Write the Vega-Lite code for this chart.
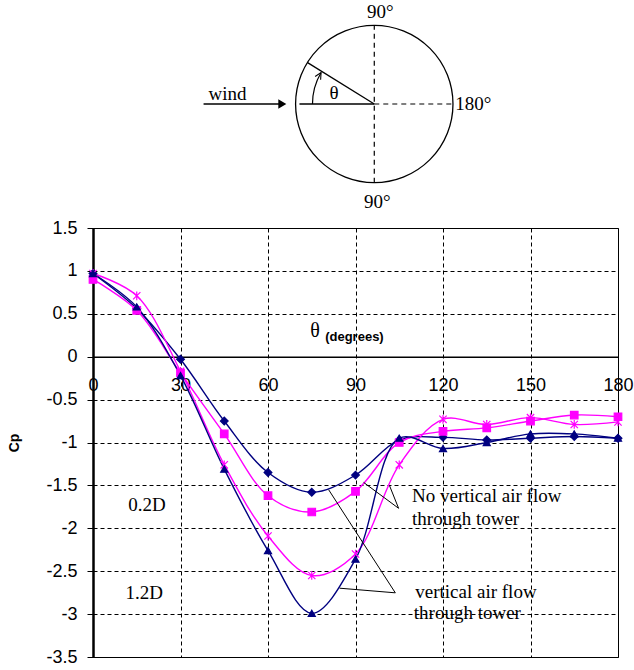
{
  "$schema": "https://vega.github.io/schema/vega-lite/v6.json",
  "background": "white",
  "padding": {"left": 7, "top": 0, "right": 0, "bottom": 0},
  "bounds": "flush",
  "spacing": 18,
  "config": {"view": {"stroke": null}, "font": "Liberation Sans"},
  "datasets": {
    "series": [
      {"theta": 0, "cp": 0.97, "series": "0.2D vertical flow"},
      {"theta": 15, "cp": 0.56, "series": "0.2D vertical flow"},
      {"theta": 30, "cp": -0.03, "series": "0.2D vertical flow"},
      {"theta": 45, "cp": -0.75, "series": "0.2D vertical flow"},
      {"theta": 60, "cp": -1.35, "series": "0.2D vertical flow"},
      {"theta": 75, "cp": -1.58, "series": "0.2D vertical flow"},
      {"theta": 90, "cp": -1.38, "series": "0.2D vertical flow"},
      {"theta": 105, "cp": -0.97, "series": "0.2D vertical flow"},
      {"theta": 120, "cp": -0.94, "series": "0.2D vertical flow"},
      {"theta": 135, "cp": -0.97, "series": "0.2D vertical flow"},
      {"theta": 150, "cp": -0.95, "series": "0.2D vertical flow"},
      {"theta": 165, "cp": -0.93, "series": "0.2D vertical flow"},
      {"theta": 180, "cp": -0.95, "series": "0.2D vertical flow"},
      {"theta": 0, "cp": 0.9, "series": "0.2D no vertical flow"},
      {"theta": 15, "cp": 0.54, "series": "0.2D no vertical flow"},
      {"theta": 30, "cp": -0.19, "series": "0.2D no vertical flow"},
      {"theta": 45, "cp": -0.9, "series": "0.2D no vertical flow"},
      {"theta": 60, "cp": -1.62, "series": "0.2D no vertical flow"},
      {"theta": 75, "cp": -1.81, "series": "0.2D no vertical flow"},
      {"theta": 90, "cp": -1.57, "series": "0.2D no vertical flow"},
      {"theta": 105, "cp": -1.0, "series": "0.2D no vertical flow"},
      {"theta": 120, "cp": -0.87, "series": "0.2D no vertical flow"},
      {"theta": 135, "cp": -0.83, "series": "0.2D no vertical flow"},
      {"theta": 150, "cp": -0.75, "series": "0.2D no vertical flow"},
      {"theta": 165, "cp": -0.68, "series": "0.2D no vertical flow"},
      {"theta": 180, "cp": -0.7, "series": "0.2D no vertical flow"},
      {"theta": 0, "cp": 0.97, "series": "1.2D no vertical flow"},
      {"theta": 15, "cp": 0.71, "series": "1.2D no vertical flow"},
      {"theta": 30, "cp": -0.17, "series": "1.2D no vertical flow"},
      {"theta": 45, "cp": -1.26, "series": "1.2D no vertical flow"},
      {"theta": 60, "cp": -2.09, "series": "1.2D no vertical flow"},
      {"theta": 75, "cp": -2.55, "series": "1.2D no vertical flow"},
      {"theta": 90, "cp": -2.3, "series": "1.2D no vertical flow"},
      {"theta": 105, "cp": -1.26, "series": "1.2D no vertical flow"},
      {"theta": 120, "cp": -0.73, "series": "1.2D no vertical flow"},
      {"theta": 135, "cp": -0.79, "series": "1.2D no vertical flow"},
      {"theta": 150, "cp": -0.71, "series": "1.2D no vertical flow"},
      {"theta": 165, "cp": -0.79, "series": "1.2D no vertical flow"},
      {"theta": 180, "cp": -0.76, "series": "1.2D no vertical flow"},
      {"theta": 0, "cp": 0.97, "series": "1.2D vertical flow"},
      {"theta": 15, "cp": 0.58, "series": "1.2D vertical flow"},
      {"theta": 30, "cp": -0.22, "series": "1.2D vertical flow"},
      {"theta": 45, "cp": -1.31, "series": "1.2D vertical flow"},
      {"theta": 60, "cp": -2.26, "series": "1.2D vertical flow"},
      {"theta": 75, "cp": -2.99, "series": "1.2D vertical flow"},
      {"theta": 90, "cp": -2.36, "series": "1.2D vertical flow"},
      {"theta": 105, "cp": -0.95, "series": "1.2D vertical flow"},
      {"theta": 120, "cp": -1.07, "series": "1.2D vertical flow"},
      {"theta": 135, "cp": -1.0, "series": "1.2D vertical flow"},
      {"theta": 150, "cp": -0.9, "series": "1.2D vertical flow"},
      {"theta": 165, "cp": -0.9, "series": "1.2D vertical flow"},
      {"theta": 180, "cp": -0.95, "series": "1.2D vertical flow"}
    ],
    "notes": [
      {"theta": 12.1, "cp": -1.795, "text": "0.2D"},
      {"theta": 11.1, "cp": -2.822, "text": "1.2D"},
      {"theta": 109.4, "cp": -1.698, "text": "No vertical air flow"},
      {"theta": 109.4, "cp": -1.962, "text": "through tower"},
      {"theta": 110.5, "cp": -2.814, "text": "vertical air flow"},
      {"theta": 110.0, "cp": -3.055, "text": "through tower"}
    ],
    "leaders": [
      {"theta": 80.8, "cp": -1.551, "theta2": 103.65, "cp2": -2.752},
      {"theta": 84.55, "cp": -2.698, "theta2": 103.65, "cp2": -2.752},
      {"theta": 92.78, "cp": -1.465, "theta2": 104.78, "cp2": -1.767},
      {"theta": 101.69, "cp": -1.505, "theta2": 104.78, "cp2": -1.767}
    ],
    "segments": [
      {"x": 0, "y": -1, "x2": 0, "y2": 1, "style": "dashed"},
      {"x": 0, "y": 0, "x2": 1, "y2": 0, "style": "dashed"},
      {"x": -0.95, "y": 0, "x2": 0, "y2": 0, "style": "solid"},
      {"x": 0, "y": 0, "x2": -0.847, "y2": 0.525, "style": "solid"},
      {"x": -2.168, "y": 0, "x2": -1.2, "y2": 0, "style": "solid"}
    ],
    "diagramText": [
      {"x": -1.863, "y": 0.051, "text": "wind"},
      {"x": -0.51, "y": 0.0635, "text": "θ"},
      {"x": 0.076, "y": 1.088, "text": "90°"},
      {"x": 0.038, "y": -1.3246, "text": "90°"},
      {"x": 1.257, "y": -0.076, "text": "180°"}
    ]
  },
  "vconcat": [
    {
      "width": 525,
      "height": 210,
      "encoding": {
        "x": {"field": "x", "type": "quantitative", "scale": {"domain": [-3.572, 3.095], "nice": false, "zero": false}, "axis": null},
        "y": {"field": "y", "type": "quantitative", "scale": {"domain": [-1.3462, 1.3208], "nice": false, "zero": false}, "axis": null}
      },
      "layer": [
        {
          "data": {"name": "segments"},
          "transform": [{"filter": "datum.style == 'dashed'"}],
          "mark": {"type": "rule", "color": "black", "strokeWidth": 1.2, "strokeDash": [5, 4]},
          "encoding": {"x2": {"field": "x2"}, "y2": {"field": "y2"}}
        },
        {
          "data": {"name": "segments"},
          "transform": [{"filter": "datum.style == 'solid'"}],
          "mark": {"type": "rule", "color": "black", "strokeWidth": 1.3},
          "encoding": {"x2": {"field": "x2"}, "y2": {"field": "y2"}}
        },
        {
          "data": {"values": [{"x": 0, "y": 0}]},
          "mark": {"type": "point", "shape": "circle", "size": 24775, "filled": false, "color": "black", "strokeWidth": 1.3, "opacity": 1}
        },
        {
          "data": {"values": [{"x": 0, "y": 0}]},
          "mark": {"type": "arc", "theta": 4.7124, "theta2": 5.243, "radius": 62.4, "radius2": 61.2, "color": "black"}
        },
        {
          "data": {"values": [{"x": -1.168, "y": 0}]},
          "mark": {"type": "point", "shape": "triangle-right", "size": 86, "filled": true, "color": "black", "opacity": 1}
        },
        {
          "data": {"values": [{"x": -0.696, "y": 0.364}]},
          "mark": {"type": "point", "shape": "M-1,1L0,-1L1,1", "size": 40, "angle": 30, "filled": false, "color": "black", "strokeWidth": 1.1, "opacity": 1}
        },
        {
          "data": {"name": "diagramText"},
          "mark": {"type": "text", "font": "Liberation Serif", "fontSize": 19, "align": "center", "baseline": "alphabetic", "color": "black"},
          "encoding": {"text": {"field": "text"}}
        }
      ]
    },
    {
      "width": 525,
      "height": 429,
      "view": {"stroke": "black", "strokeWidth": 1},
      "encoding": {
        "x": {
          "field": "theta", "type": "quantitative",
          "scale": {"domain": [0, 180], "nice": false, "zero": false},
          "axis": {
            "title": null, "orient": "bottom", "offset": -300.3,
            "values": [0, 30, 60, 90, 120, 150, 180],
            "labelFont": "Liberation Sans", "labelFontSize": 18, "labelColor": "black",
            "labelPadding": 20, "labelFlush": false, "labelOverlap": false,
            "ticks": true, "tickSize": 0,
            "domainColor": "black", "domainWidth": 1.5,
            "grid": true, "gridColor": "black", "gridDash": [4, 3], "gridOpacity": 1, "gridWidth": 1
          }
        },
        "y": {
          "field": "cp", "type": "quantitative",
          "scale": {"domain": [-3.5, 1.5], "nice": false, "zero": false},
          "axis": {
            "title": "Cp", "titleFont": "Liberation Sans", "titleFontWeight": "bold", "titleFontSize": 14, "titleColor": "black", "titlePadding": 24,
            "values": [1.5, 1, 0.5, 0, -0.5, -1, -1.5, -2, -2.5, -3, -3.5],
            "labelExpr": "'' + datum.value",
            "labelFont": "Liberation Sans", "labelFontSize": 18, "labelColor": "black",
            "labelPadding": 10, "labelFlush": false, "labelOverlap": false,
            "tickSize": 6, "tickColor": "black", "tickWidth": 1,
            "domainColor": "black", "domainWidth": 2.5,
            "grid": true, "gridColor": "black", "gridDash": [4, 3], "gridOpacity": 1, "gridWidth": 1
          }
        }
      },
      "layer": [
        {
          "data": {"name": "series"},
          "mark": {"type": "line", "interpolate": "catmull-rom", "strokeWidth": 1.4},
          "encoding": {
            "color": {"field": "series", "type": "nominal", "legend": null,
              "scale": {"domain": ["0.2D vertical flow", "0.2D no vertical flow", "1.2D no vertical flow", "1.2D vertical flow"], "range": ["#000080", "#ff00ff", "#ff00ff", "#000080"]}}
          }
        },
        {
          "data": {"name": "series"},
          "mark": {"type": "point", "filled": true, "opacity": 1, "strokeWidth": 1.2},
          "encoding": {
            "shape": {"field": "series", "type": "nominal", "legend": null,
              "scale": {"domain": ["0.2D vertical flow", "0.2D no vertical flow", "1.2D no vertical flow", "1.2D vertical flow"], "range": ["diamond", "square", "M-1,-1L1,1M-1,1L1,-1M0,-1.2L0,1.2", "triangle-up"]}},
            "fill": {"field": "series", "type": "nominal", "legend": null,
              "scale": {"domain": ["0.2D vertical flow", "0.2D no vertical flow", "1.2D no vertical flow", "1.2D vertical flow"], "range": ["#000080", "#ff00ff", "#ff00ff", "#000080"]}},
            "stroke": {"field": "series", "type": "nominal", "legend": null,
              "scale": {"domain": ["0.2D vertical flow", "0.2D no vertical flow", "1.2D no vertical flow", "1.2D vertical flow"], "range": ["#000080", "#ff00ff", "#ff00ff", "#000080"]}},
            "size": {"field": "series", "type": "nominal", "legend": null,
              "scale": {"domain": ["0.2D vertical flow", "0.2D no vertical flow", "1.2D no vertical flow", "1.2D vertical flow"], "range": [60, 50, 80, 64]}}
          }
        },
        {
          "data": {"name": "leaders"},
          "mark": {"type": "rule", "color": "black", "strokeWidth": 1},
          "encoding": {"x2": {"field": "theta2"}, "y2": {"field": "cp2"}}
        },
        {
          "data": {"name": "notes"},
          "mark": {"type": "text", "font": "Liberation Serif", "fontSize": 19, "align": "left", "baseline": "alphabetic", "color": "black"},
          "encoding": {"text": {"field": "text"}}
        },
        {
          "data": {"values": [{"theta": 74.5, "cp": 0.224, "text": "θ"}]},
          "mark": {"type": "text", "font": "Liberation Serif", "fontSize": 20, "align": "left", "baseline": "alphabetic", "color": "black"},
          "encoding": {"text": {"field": "text"}}
        },
        {
          "data": {"values": [{"theta": 79.6, "cp": 0.178, "text": "(degrees)"}]},
          "mark": {"type": "text", "font": "Liberation Sans", "fontSize": 13, "fontWeight": "bold", "align": "left", "baseline": "alphabetic", "color": "black"},
          "encoding": {"text": {"field": "text"}}
        }
      ]
    }
  ]
}
